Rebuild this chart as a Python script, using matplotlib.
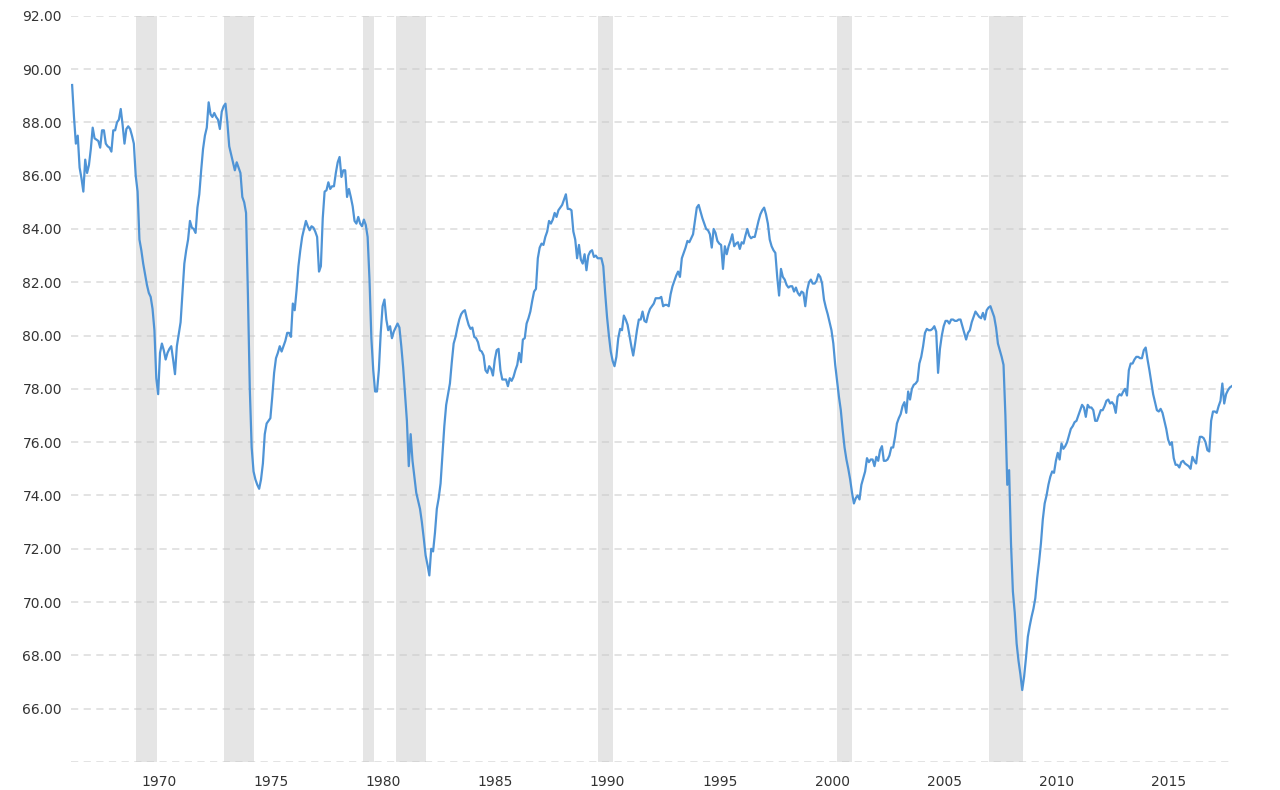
import numpy as np
import matplotlib.pyplot as plt

# monthly capacity utilization readings
# first point sits at 1966.14 on the chart's own year axis
util_a = [89.4, 88.2, 87.2, 87.5, 86.3, 85.9, 85.4, 86.6, 86.1, 86.4, 87.0, 87.8,
          87.4, 87.35, 87.3, 87.05, 87.7, 87.7, 87.2, 87.1, 87.05, 86.9, 87.7, 87.7,
          88.0, 88.1, 88.5, 87.9, 87.2, 87.75, 87.85, 87.75, 87.5, 87.2, 86.0, 85.4,
          83.6, 83.2, 82.7, 82.3, 81.9, 81.6, 81.45, 81.0, 80.2, 78.4, 77.8, 79.35,
          79.7, 79.45, 79.1, 79.35, 79.5, 79.6, 79.1, 78.55, 79.6, 80.05, 80.5, 81.6,
          82.7, 83.2, 83.6, 84.3, 84.05, 84.0, 83.85, 84.8, 85.3, 86.2, 87.0, 87.5,
          87.8, 88.75, 88.3, 88.2, 88.35, 88.2, 88.1, 87.75, 88.4, 88.6, 88.7, 88.0,
          87.1, 86.8, 86.5, 86.2, 86.5, 86.3, 86.1, 85.2, 85.0, 84.6, 81.5, 78.0,
          75.8, 74.9, 74.6, 74.4, 74.25, 74.6, 75.2, 76.3, 76.7, 76.8, 76.9, 77.7,
          78.6, 79.15, 79.35, 79.6, 79.4, 79.6, 79.8, 80.1, 80.1, 79.95, 81.2, 80.95]
util_b = [81.7, 82.6, 83.2, 83.7, 84.0, 84.3, 84.1, 83.95, 84.1, 84.05, 83.9, 83.7,
          82.4, 82.6, 84.4, 85.4, 85.45, 85.75, 85.5, 85.6, 85.6, 86.1, 86.5, 86.7,
          85.95, 86.2, 86.2, 85.2, 85.5, 85.2, 84.85, 84.3, 84.2, 84.45, 84.2, 84.1,
          84.35, 84.15, 83.7, 82.1, 79.9, 78.7, 77.9, 77.9, 78.7, 80.1, 81.1, 81.35,
          80.6, 80.2, 80.35, 79.9, 80.15, 80.3, 80.45, 80.3, 79.6, 78.8, 77.8, 76.8,
          75.1, 76.3, 75.3, 74.7, 74.1, 73.8, 73.5, 73.0, 72.4, 71.75, 71.4, 71.0,
          72.0, 71.9, 72.6, 73.5, 73.9, 74.45, 75.5, 76.6, 77.4, 77.8, 78.2, 79.0,
          79.7, 79.95, 80.3, 80.6, 80.8, 80.9, 80.95, 80.65, 80.4, 80.25, 80.3, 79.95,
          79.9, 79.75, 79.45, 79.4, 79.25, 78.7, 78.6, 78.85, 78.75, 78.5, 79.1, 79.45,
          79.5, 78.7, 78.35, 78.35, 78.35, 78.1, 78.4, 78.3, 78.45, 78.7, 78.9, 79.35]
util_c = [79.0, 79.85, 79.9, 80.45, 80.65, 80.9, 81.3, 81.65, 81.75, 82.9, 83.3, 83.45,
          83.4, 83.7, 83.9, 84.3, 84.2, 84.35, 84.6, 84.45, 84.7, 84.8, 84.9, 85.1,
          85.3, 84.75, 84.75, 84.7, 83.9, 83.6, 82.9, 83.4, 82.85, 82.7, 83.05, 82.45,
          83.0, 83.15, 83.2, 82.95, 83.0, 82.9, 82.9, 82.9, 82.6, 81.6, 80.7, 80.0,
          79.4, 79.05, 78.85, 79.2, 79.9, 80.25, 80.2, 80.75, 80.6, 80.4, 80.0, 79.6,
          79.25, 79.7, 80.2, 80.6, 80.6, 80.9, 80.55, 80.5, 80.8, 81.0, 81.1, 81.2,
          81.4, 81.4, 81.4, 81.45, 81.1, 81.15, 81.15, 81.1, 81.55, 81.85, 82.05, 82.25,
          82.4, 82.2, 82.9, 83.1, 83.3, 83.55, 83.5, 83.65, 83.8, 84.3, 84.8, 84.9,
          84.65, 84.4, 84.2, 84.0, 83.95, 83.8, 83.3, 84.0, 83.85, 83.55, 83.45, 83.4,
          82.5, 83.35, 83.05, 83.35, 83.55, 83.8, 83.35, 83.45, 83.5, 83.25, 83.5, 83.45]
util_d = [83.75, 84.0, 83.75, 83.65, 83.7, 83.7, 84.0, 84.3, 84.55, 84.7, 84.8, 84.55,
          84.2, 83.6, 83.35, 83.2, 83.1, 82.2, 81.5, 82.5, 82.2, 82.1, 81.9, 81.8,
          81.85, 81.85, 81.65, 81.8, 81.6, 81.5, 81.65, 81.6, 81.1, 81.7, 82.0, 82.1,
          81.95, 81.95, 82.05, 82.3, 82.2, 81.95, 81.35, 81.05, 80.8, 80.5, 80.2, 79.7,
          78.9, 78.3, 77.7, 77.2, 76.45, 75.8, 75.35, 75.0, 74.6, 74.1, 73.7, 73.9,
          74.0, 73.85, 74.4, 74.65, 74.9, 75.4, 75.25, 75.35, 75.35, 75.1, 75.45, 75.3,
          75.7, 75.85, 75.3, 75.3, 75.35, 75.5, 75.8, 75.8, 76.2, 76.7, 76.9, 77.05,
          77.35, 77.5, 77.1, 77.9, 77.6, 78.0, 78.15, 78.2, 78.3, 78.95, 79.2, 79.6,
          80.1, 80.25, 80.2, 80.2, 80.25, 80.35, 80.15, 78.6, 79.5, 80.0, 80.35, 80.55,
          80.55, 80.45, 80.6, 80.6, 80.55, 80.55, 80.6, 80.6, 80.35, 80.1, 79.85, 80.1]
util_e = [80.2, 80.5, 80.7, 80.9, 80.8, 80.7, 80.65, 80.85, 80.6, 80.95, 81.05, 81.1,
          80.9, 80.7, 80.3, 79.7, 79.45, 79.2, 78.9, 77.0, 74.4, 74.95, 72.2, 70.4,
          69.6, 68.45, 67.8, 67.3, 66.7, 67.2, 67.9, 68.7, 69.1, 69.45, 69.75, 70.15,
          70.9, 71.5, 72.2, 73.1, 73.7, 74.0, 74.4, 74.7, 74.9, 74.85, 75.3, 75.6,
          75.35, 75.95, 75.75, 75.85, 76.0, 76.25, 76.5, 76.6, 76.75, 76.8, 77.0, 77.2,
          77.4, 77.3, 76.95, 77.4, 77.3, 77.3, 77.2, 76.8, 76.8, 77.0, 77.2, 77.2,
          77.35, 77.55, 77.6, 77.45, 77.5, 77.4, 77.1, 77.7, 77.8, 77.75, 77.9, 78.0,
          77.75, 78.7, 78.95, 78.95, 79.1, 79.2, 79.2, 79.15, 79.15, 79.45, 79.55, 79.1,
          78.7, 78.25, 77.8, 77.5, 77.2, 77.15, 77.25, 77.1, 76.8, 76.5, 76.1, 75.9,
          76.0, 75.4, 75.15, 75.15, 75.05, 75.25, 75.3, 75.2, 75.15, 75.1, 75.0, 75.45,
          75.3, 75.2, 75.8, 76.2, 76.2, 76.15, 76.0, 75.7, 75.65, 76.8, 77.15, 77.15,
          77.1, 77.35, 77.55, 78.2, 77.45, 77.8, 77.95, 78.05, 78.1]

utilization = util_a + util_b + util_c + util_d + util_e
first_month = 1966.14

recessions = [(1968.99, 1969.92), (1972.91, 1974.23), (1979.10, 1979.58),
              (1980.57, 1981.89), (1989.58, 1990.24), (2000.22, 2000.89),
              (2006.99, 2008.51)]

year_ticks = [1970, 1975, 1980, 1985, 1990, 1995, 2000, 2005, 2010, 2015]
value_ticks = [66, 68, 70, 72, 74, 76, 78, 80, 82, 84, 86, 88, 90, 92]
grid_levels = [64] + value_ticks

fig = plt.figure(figsize=(12.8, 7.9), dpi=100)
ax = fig.add_axes([71 / 1280, 28 / 790, 1161 / 1280, 746.3 / 790])

months = first_month + np.arange(len(utilization)) / 12.0

for start, end in recessions:
    ax.axvspan(start, end, color='#e5e5e5', lw=0, zorder=0)

for lvl in grid_levels:
    ax.axhline(lvl, color='#c8c8c8', alpha=0.55, lw=1.3, ls=(0, (4, 3)), zorder=1)

ax.plot(months, utilization, color='#4f94d6', lw=1.6, zorder=3)

ax.set_xlim(1966.09, 2017.82)
ax.set_ylim(64, 92)
ax.set_xticks(year_ticks)
ax.set_xticklabels([str(y) for y in year_ticks])
ax.set_yticks(value_ticks)
ax.set_yticklabels(['%.2f' % v for v in value_ticks])

ax.tick_params(axis='both', length=0, labelsize=10, labelcolor='#333333')
ax.tick_params(axis='y', pad=6.5)
ax.tick_params(axis='x', pad=9)
for sp in ax.spines.values():
    sp.set_visible(False)

fig.savefig('out.png', dpi=100)
